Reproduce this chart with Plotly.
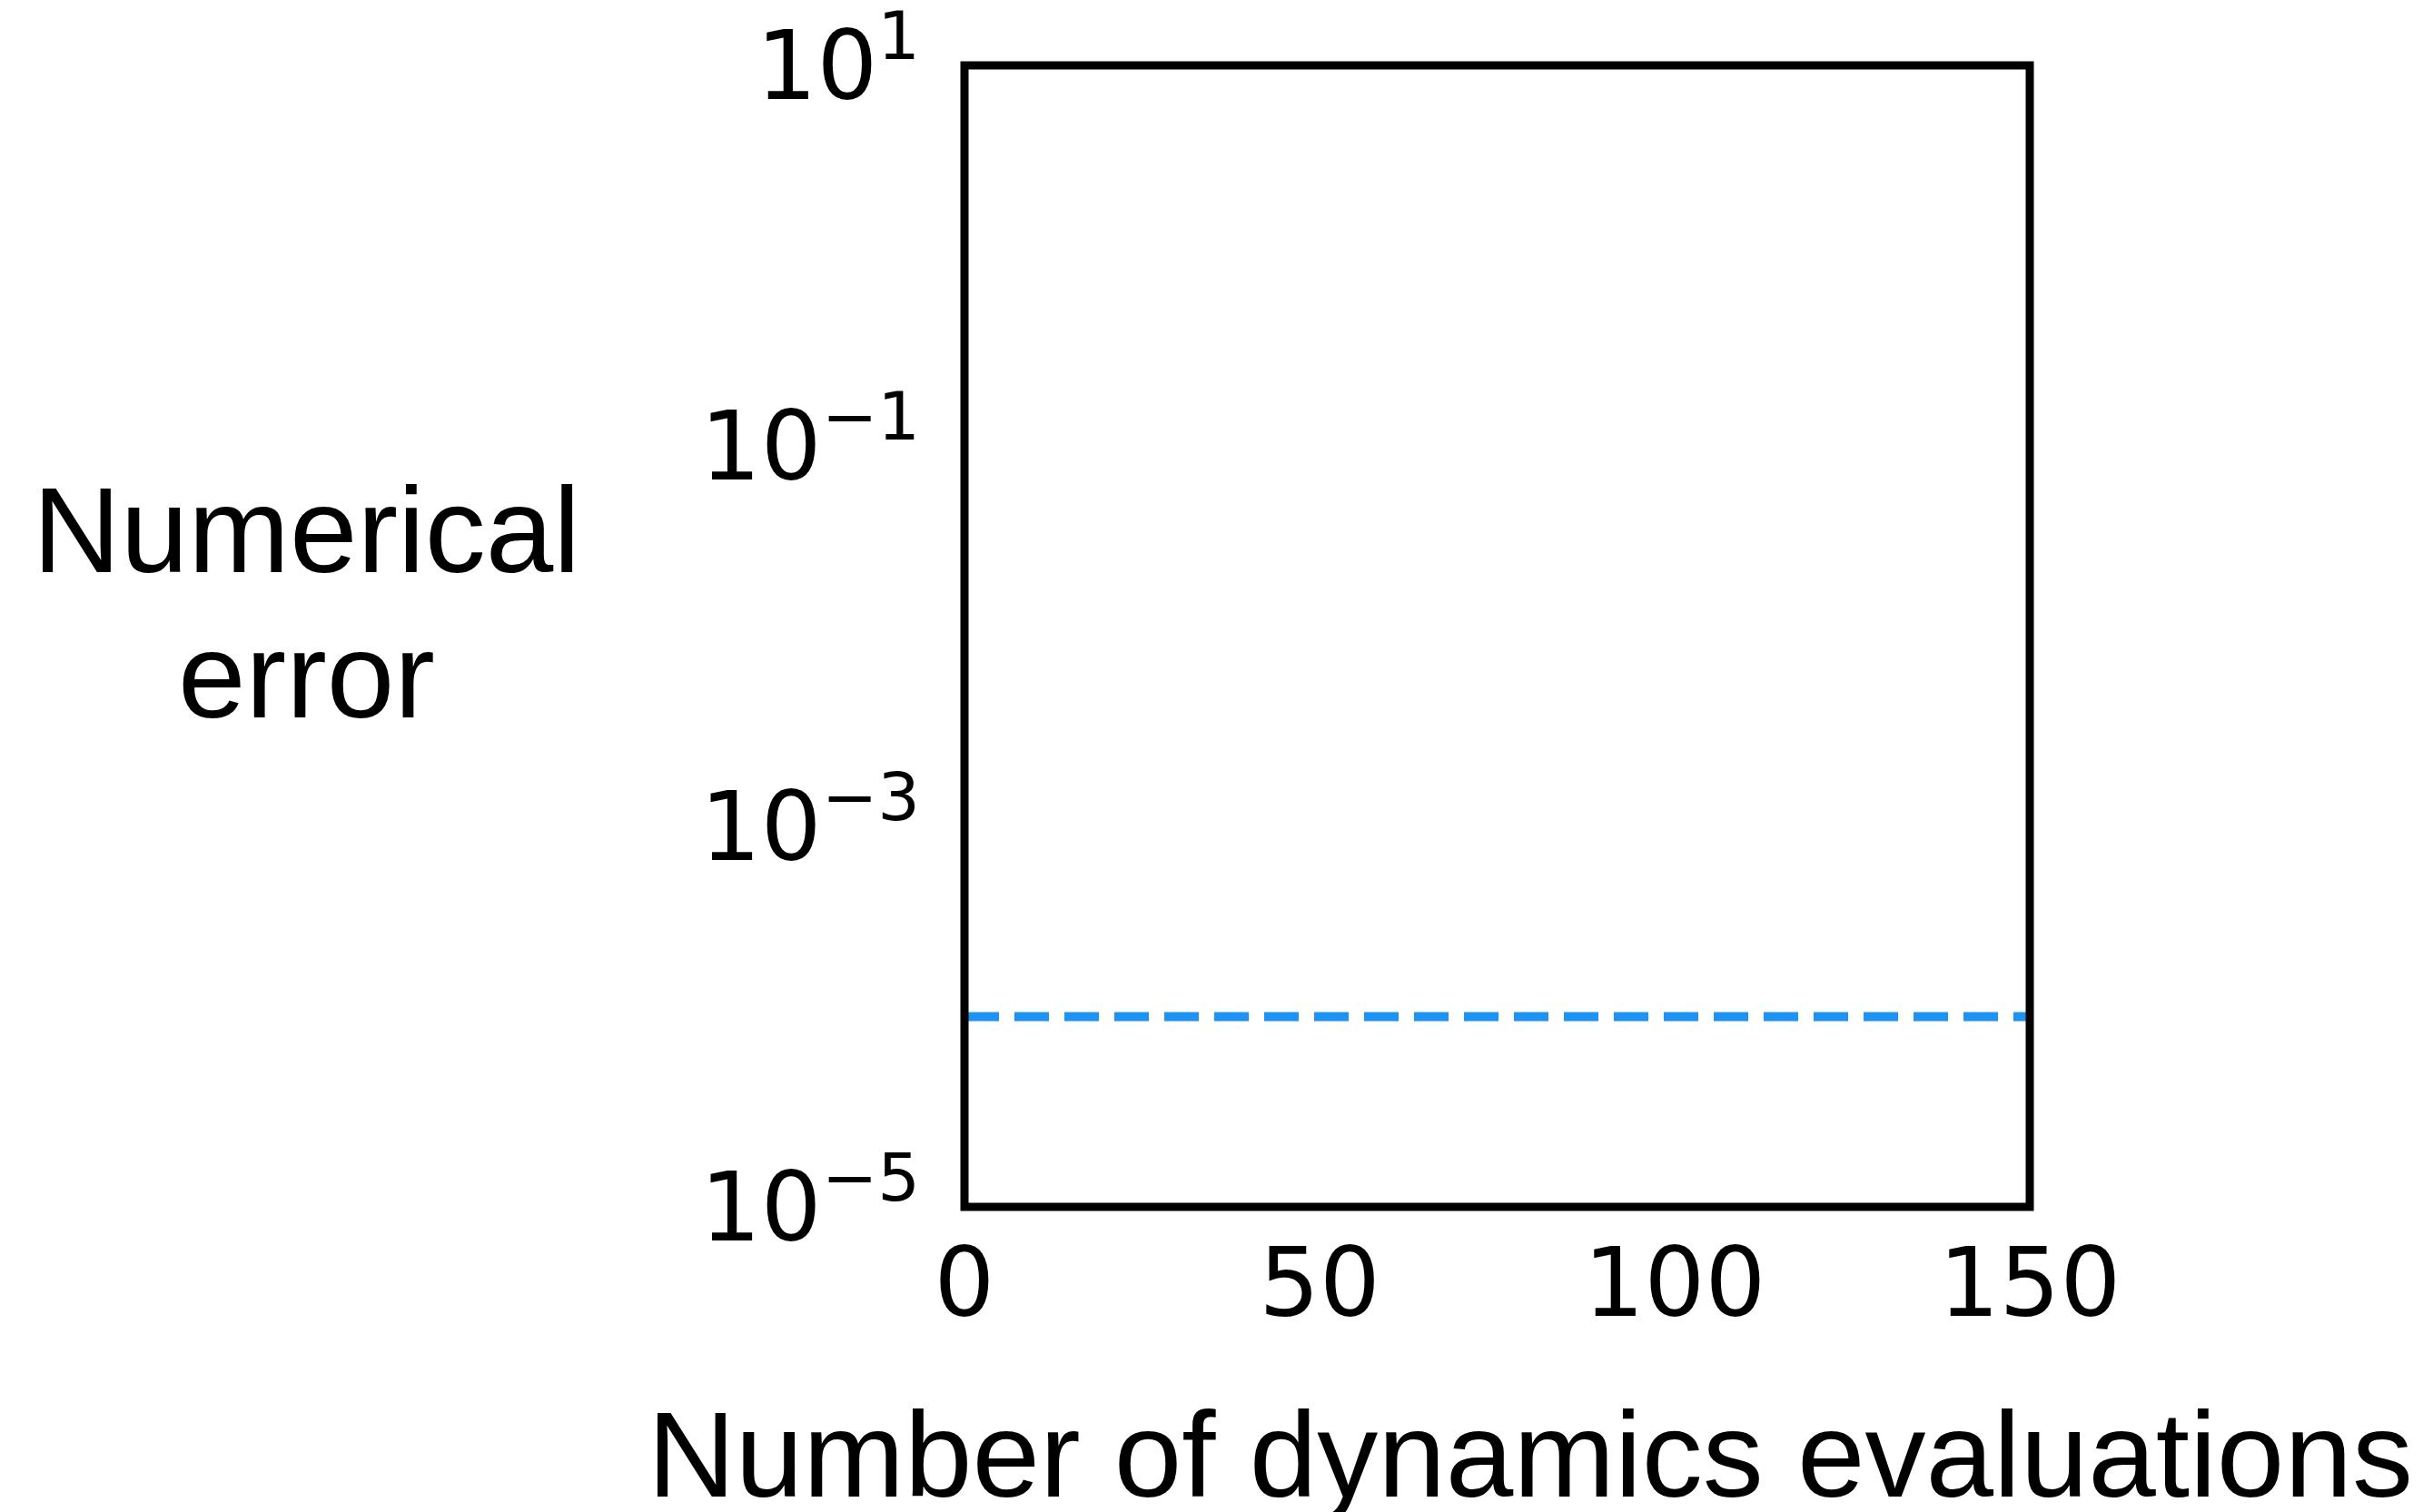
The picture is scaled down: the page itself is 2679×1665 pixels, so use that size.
import plotly.graph_objects as go

# Data
x_vals = [0, 150]
y_vals = [1e-4, 1e-4]
x_tickvals = [0, 50, 100, 150]
x_ticktext = ["0", "50", "100", "150"]
y_tickvals = [1e-5, 1e-3, 1e-1, 1e1]
y_ticktext = ["10<sup>−5</sup>", "10<sup>−3</sup>", "10<sup>−1</sup>", "10<sup>1</sup>"]

W, H = 2679, 1665
L, R, T, B = 1062, 2235, 72, 1329
pw, ph = R - L, B - T

def px(xp):
    return (xp - L) / pw

def py(yp):
    return (B - yp) / ph

fig = go.Figure()
fig.add_trace(go.Scatter(
    x=x_vals, y=y_vals, mode="lines",
    line=dict(color="#1E93F2", width=10, dash="38px,17px"),
    showlegend=False, hoverinfo="skip",
))

tick_font = dict(family="DejaVu Sans", size=105, color="black")
title_font = dict(family="Liberation Sans, Arial, Helvetica", size=134, color="black")

fig.update_layout(
    width=W, height=H,
    margin=dict(l=L, r=W - R, t=T, b=H - B, pad=0, autoexpand=False),
    paper_bgcolor="white", plot_bgcolor="white",
    xaxis=dict(
        range=[0, 150], tickvals=x_tickvals, ticktext=x_ticktext,
        showgrid=False, zeroline=False, showline=False,
        ticks="", tickfont=tick_font, ticklabelstandoff=14,
        ticklabeloverflow="allow", automargin=False,
    ),
    yaxis=dict(
        type="log", range=[-5.00001, 1.00001], tickvals=y_tickvals, ticktext=y_ticktext,
        showgrid=False, zeroline=False, showline=False,
        ticks="", tickfont=tick_font, ticklabelstandoff=48,
        ticklabeloverflow="allow", automargin=False,
    ),
    shapes=[dict(
        type="rect", xref="paper", yref="paper", x0=0, x1=1, y0=0, y1=1,
        line=dict(color="black", width=9), fillcolor="rgba(0,0,0,0)", layer="above",
    )],
    annotations=[
        dict(
            text="Numerical", xref="paper", yref="paper",
            x=px(337), y=py(583), xanchor="center", yanchor="middle",
            showarrow=False, font=title_font, align="center",
        ),
        dict(
            text="error", xref="paper", yref="paper",
            x=px(337), y=py(743), xanchor="center", yanchor="middle",
            showarrow=False, font=title_font, align="center",
        ),
        dict(
            text="Number of dynamics evaluations", xref="paper", yref="paper",
            x=px(1685), y=py(1601), xanchor="center", yanchor="middle",
            showarrow=False, font=title_font,
        ),
    ],
)

fig.write_html("out.html")
